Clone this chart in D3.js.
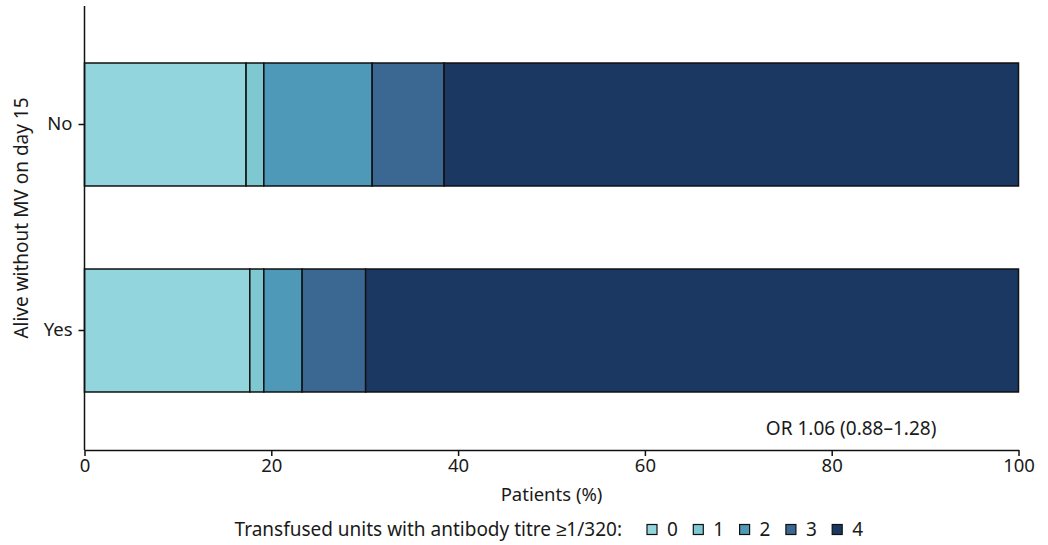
<!DOCTYPE html>
<html>
<head>
<meta charset="utf-8">
<script src="https://cdn.jsdelivr.net/npm/d3@7"></script>
<style>
  body { margin: 0; background: #fff; }
  svg { display: block; font-family: "Noto Sans", sans-serif; }
  text { fill: #1a1a1a; }
</style>
</head>
<body>
<svg id="chart" width="1048" height="545"></svg>
<script>
// Groups on the y axis
const groups = ["No", "Yes"];
// Titre categories (number of transfused units with titre ≥1/320)
const categories = ["0", "1", "2", "3", "4"];
// Percentage of patients in each category, per group
const valuesNo  = [17.3, 1.9, 11.6, 7.7, 61.5];
const valuesYes = [17.7, 1.5, 4.1, 6.8, 69.9];
const xTicks = [0, 20, 40, 60, 80, 100];
const colors = ["#93d5dd", "#7ec8d2", "#4e99b8", "#3b6893", "#1b3862"];

const svg = d3.select("#chart");
const plotLeft = 84.5, plotRight = 1018.5, plotTop = 6, axisY = 450;
const fontSize = 18.5;

const x = d3.scaleLinear().domain([0, 100]).range([plotLeft, plotRight]);
const y = d3.scaleBand().domain(groups).range([21.5, 433.5])
  .paddingInner(0.403).paddingOuter(0.2015);
const color = d3.scaleOrdinal().domain(categories).range(colors);

const rows = [
  { group: "No", values: valuesNo },
  { group: "Yes", values: valuesYes }
];

// Stacked segments
rows.forEach(r => {
  let acc = 0;
  const segs = r.values.map((v, i) => {
    const s = { cat: categories[i], x0: acc, x1: acc + v };
    acc += v;
    return s;
  });
  svg.append("g").selectAll("rect").data(segs).join("rect")
    .attr("x", d => x(d.x0))
    .attr("y", y(r.group))
    .attr("width", d => x(d.x1) - x(d.x0))
    .attr("height", y.bandwidth())
    .attr("fill", d => color(d.cat))
    .attr("stroke", "#111")
    .attr("stroke-width", 1.5);
});

// X axis
const xAxis = svg.append("g").attr("transform", `translate(0,${axisY})`)
  .call(d3.axisBottom(x).tickValues(xTicks).tickSize(6).tickPadding(3).tickSizeOuter(0));
xAxis.select(".domain").attr("stroke", "#111").attr("stroke-width", 1.5);
xAxis.selectAll(".tick line").attr("stroke", "#111").attr("stroke-width", 1.5);
xAxis.selectAll(".tick text").attr("font-size", fontSize).attr("font-family", "Noto Sans").attr("fill", "#1a1a1a");

// Y axis
const yAxis = svg.append("g").attr("transform", `translate(${plotLeft},0)`)
  .call(d3.axisLeft(y).tickSize(6).tickPadding(6).tickSizeOuter(0));
yAxis.select(".domain").attr("d", `M0,${plotTop}V${axisY}`).attr("stroke", "#111").attr("stroke-width", 1.5);
yAxis.selectAll(".tick line").attr("stroke", "#111").attr("stroke-width", 1.5);
yAxis.selectAll(".tick text").attr("font-size", fontSize).attr("font-family", "Noto Sans").attr("fill", "#1a1a1a");

// Axis titles
svg.append("text").attr("x", (plotLeft + plotRight) / 2).attr("y", 501)
  .attr("text-anchor", "middle").attr("font-size", fontSize).text("Patients (%)");
svg.append("text").attr("transform", `translate(28,218) rotate(-90)`)
  .attr("text-anchor", "middle").attr("font-size", 19).text("Alive without MV on day 15");

// Odds ratio annotation
svg.append("text").attr("x", x(72.95)).attr("y", 435)
  .attr("font-size", 19).text("OR 1.06 (0.88\u20131.28)");

// Legend
const legend = svg.append("g").attr("transform", "translate(0,536)");
legend.append("text").attr("x", 622).attr("y", 0).attr("text-anchor", "end")
  .attr("font-size", 19).text("Transfused units with antibody titre \u22651/320:");
const item = legend.selectAll("g.item").data(categories).join("g")
  .attr("class", "item")
  .attr("transform", (d, i) => `translate(${647 + i * 46.3},0)`);
item.append("rect").attr("x", 0).attr("y", -11.5).attr("width", 10).attr("height", 10)
  .attr("fill", d => color(d)).attr("stroke", "#111").attr("stroke-width", 1.2);
item.append("text").attr("x", 20).attr("y", 0).attr("font-size", 19).text(d => d);
</script>
</body>
</html>
